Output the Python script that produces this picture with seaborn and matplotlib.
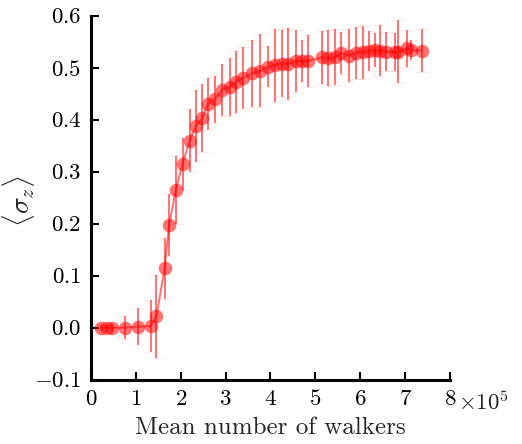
import matplotlib
matplotlib.use("Agg")
import matplotlib.pyplot as plt
import matplotlib.ticker as mticker
import matplotlib.transforms as mtransforms
import seaborn as sns
import pandas as pd

# Data (x in units of 1e5 walkers)
walkers_1e5 = [0.22, 0.35, 0.47, 0.76, 1.04, 1.33, 1.46, 1.64, 1.74, 1.89,
               2.04, 2.20, 2.34, 2.48, 2.61, 2.76, 2.93, 3.10, 3.23, 3.39,
               3.58, 3.76, 3.95, 4.10, 4.25, 4.39, 4.56, 4.70, 4.84, 5.14,
               5.28, 5.43, 5.58, 5.75, 5.90, 6.07, 6.20, 6.32, 6.44, 6.58,
               6.77, 6.84, 7.04, 7.14, 7.38]
sigma_z = [0.000, 0.000, 0.000, 0.000, 0.002, 0.003, 0.022, 0.114, 0.197, 0.265,
           0.315, 0.360, 0.388, 0.403, 0.431, 0.439, 0.458, 0.463, 0.473, 0.480,
           0.489, 0.494, 0.502, 0.505, 0.508, 0.507, 0.513, 0.513, 0.513, 0.520,
           0.518, 0.520, 0.528, 0.523, 0.529, 0.530, 0.532, 0.534, 0.533, 0.531,
           0.530, 0.531, 0.537, 0.534, 0.533]
sigma_err = [0.005, 0.005, 0.007, 0.022, 0.035, 0.050, 0.080, 0.058, 0.060, 0.065,
             0.050, 0.060, 0.070, 0.065, 0.050, 0.045, 0.050, 0.055, 0.060, 0.060,
             0.065, 0.070, 0.040, 0.070, 0.065, 0.070, 0.060, 0.040, 0.050, 0.051,
             0.054, 0.054, 0.040, 0.051, 0.050, 0.051, 0.038, 0.033, 0.049, 0.037,
             0.037, 0.061, 0.035, 0.019, 0.042]
x_ticks = [0, 1, 2, 3, 4, 5, 6, 7, 8]
y_ticks = [-0.1, 0.0, 0.1, 0.2, 0.3, 0.4, 0.5, 0.6]

df = pd.DataFrame({"x": walkers_1e5, "y": sigma_z, "err": sigma_err})

sns.set_style("ticks")
plt.rcParams["mathtext.fontset"] = "cm"
plt.rcParams["font.family"] = ["cmr10", "DejaVu Serif"]

fig = plt.figure(figsize=(5.22, 4.44), dpi=100)
ax = fig.add_axes([0.1743, 0.1448, 0.862 - 0.1743, 0.9646 - 0.1448])

_, caps, _ = ax.errorbar(df["x"], df["y"], yerr=df["err"], fmt="none",
                         ecolor=(1, 0, 0, 0.55), elinewidth=1.4, capsize=5,
                         capthick=0.5, zorder=2)
for c in caps:
    c.set_alpha(0.12)
sns.lineplot(data=df, x="x", y="y", ax=ax, color="red", alpha=0.55, linewidth=1.4,
             marker="o", markersize=9.8, markeredgewidth=0, zorder=3)

ax.set_xlim(0, 8)
ax.set_ylim(-0.1, 0.6)
ax.set_xticks(x_ticks)
ax.set_yticks(y_ticks)
ax.xaxis.set_major_formatter(mticker.FuncFormatter(lambda v, p: f"${v:.0f}$"))
ax.yaxis.set_major_formatter(mticker.FuncFormatter(lambda v, p: f"${v:.1f}$"))

for side in ["top", "right"]:
    ax.spines[side].set_visible(False)
for side in ["left", "bottom"]:
    ax.spines[side].set_linewidth(2.2)
    ax.spines[side].set_color("black")
ax.tick_params(direction="in", length=6, width=1.5, labelsize=16.5, pad=7, colors="black")

ax.set_xlabel("Mean number of walkers", fontsize=18, labelpad=5)
ax.set_ylabel(r"$\langle \sigma_z \rangle$", fontsize=20, color="#222222")
ax.yaxis.set_label_coords(-0.150, 0.49)
trans = mtransforms.offset_copy(ax.transAxes, fig=fig, x=6, y=-7.5, units="points")
ax.text(1.0, 0.0, r"$\times 10^5$", transform=trans, fontsize=16.5,
        ha="left", va="top")

fig.savefig("out.png", dpi=100)
